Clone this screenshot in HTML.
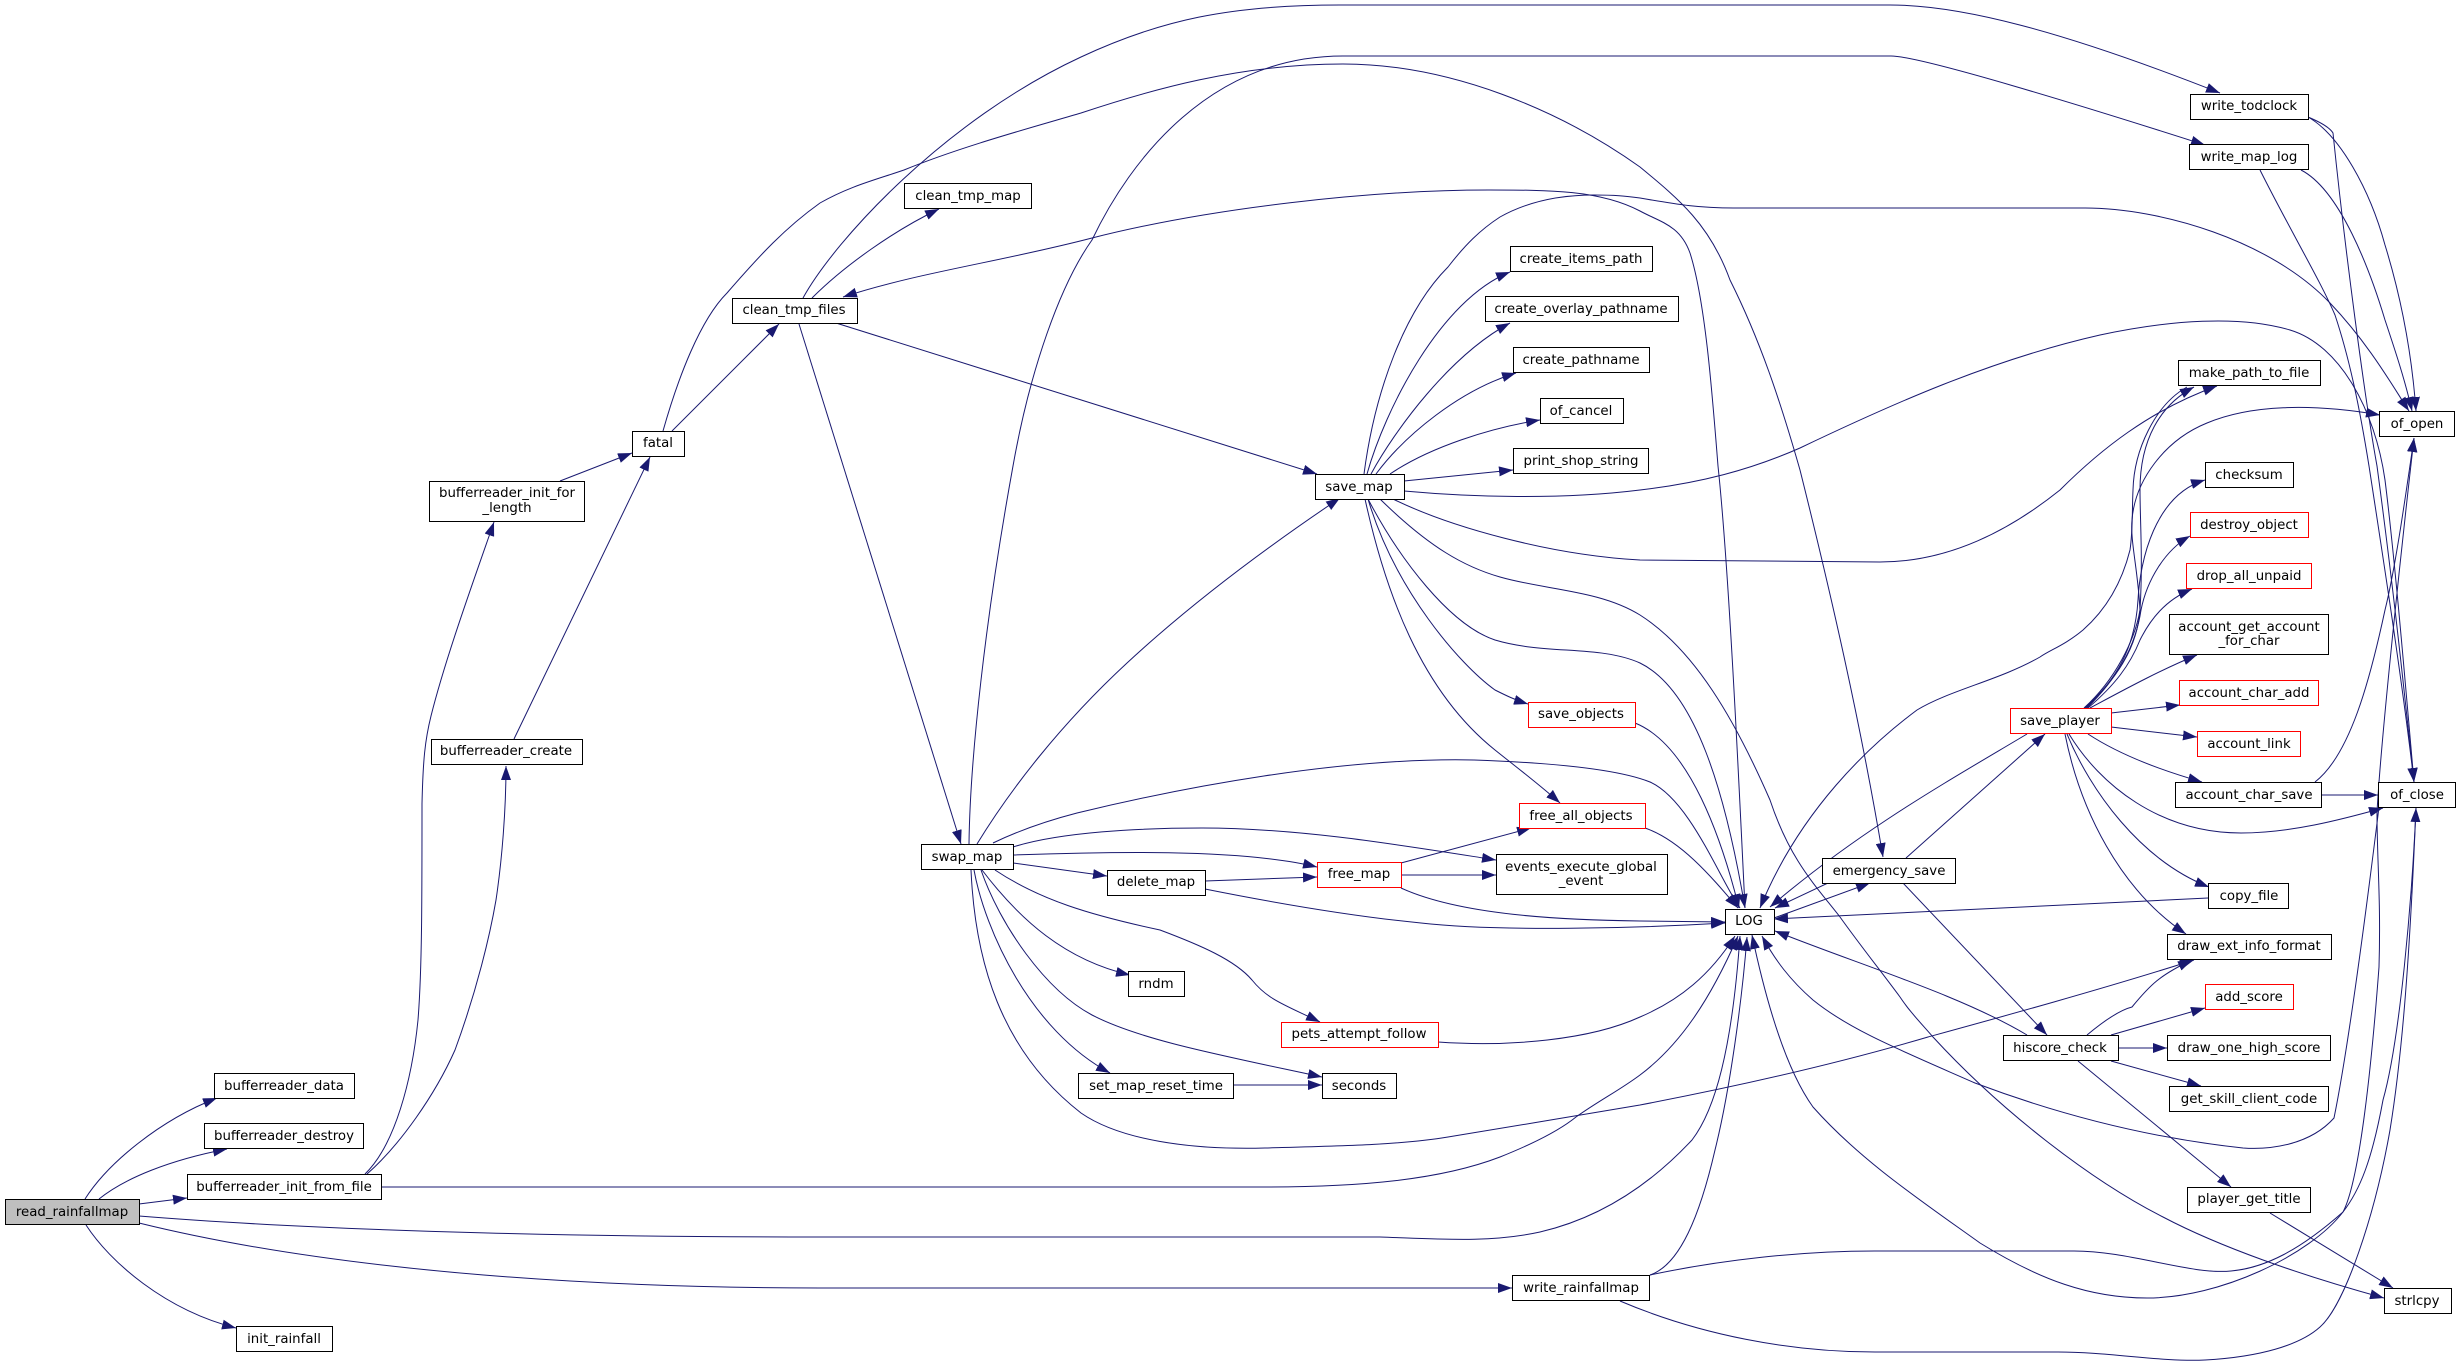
<!DOCTYPE html>
<html><head><meta charset="utf-8"><style>
html,body{margin:0;padding:0;background:#fff}
svg{display:block}
.e path{fill:none;stroke:#191970;stroke-width:1;marker-end:url(#a)}
.n rect{fill:#fff;stroke:#000;stroke-width:1}
.n rect.r{stroke:#ff0000}
.n rect.g{fill:#bfbfbf}
text{font-family:"DejaVu Sans",sans-serif;font-size:13.33px;text-anchor:middle;fill:#000}
</style></head><body>
<svg xmlns="http://www.w3.org/2000/svg" width="2461" height="1366" viewBox="0 0 2461 1366">
<defs><marker id="a" markerUnits="userSpaceOnUse" markerWidth="14" markerHeight="10" refX="14" refY="5" orient="auto"><path d="M0,0L14,5L0,10z" fill="#191970"/></marker></defs>
<rect width="2461" height="1366" fill="#fff"/>
<g class="e">
<path d="M85,1199C108,1163 160,1120 217,1098"/>
<path d="M99,1199C125,1178 170,1160 227,1149"/>
<path d="M139,1204L187,1198"/>
<path d="M139,1216C350,1233 620,1237 820,1237L1380,1237C1440,1239 1490,1243 1540,1232C1600,1218 1650,1185 1692,1140C1715,1110 1732,1050 1740,936"/>
<path d="M139,1223C350,1275 620,1288 820,1288L1512,1288"/>
<path d="M86,1225C110,1262 165,1310 236,1328"/>
<path d="M365,1174C395,1145 412,1080 418,1020C422,970 422,900 422,804C423,760 425,740 431,716C445,660 472,585 494,522"/>
<path d="M367,1174C400,1145 435,1095 455,1050C477,990 490,935 496,900C502,860 506,810 506,766"/>
<path d="M381,1187L1265,1187C1360,1187 1440,1180 1500,1157C1535,1143 1560,1130 1576,1117C1600,1100 1620,1090 1640,1075C1680,1045 1710,1000 1738,936"/>
<path d="M560,481L632,453"/>
<path d="M514,739L650,457"/>
<path d="M672,431L779,324"/>
<path d="M663,431C678,378 700,320 727,293C760,255 785,228 820,203C850,186 875,180 904,170C960,147 1030,128 1081,113C1150,90 1240,64 1343,64C1450,64 1560,110 1640,167C1680,200 1710,225 1730,280C1760,340 1780,400 1800,470C1830,590 1860,720 1883,857"/>
<path d="M803,298C835,240 945,120 1081,57C1160,20 1230,5 1340,5L1890,5C1960,5 2060,30 2220,93"/>
<path d="M812,298C845,265 895,230 939,209"/>
<path d="M836,323L1317,474"/>
<path d="M799,324L961,844"/>
<path d="M1745,908C1737,740 1728,560 1718,466C1712,390 1705,300 1690,253C1680,225 1660,222 1640,211C1600,190 1550,190 1489,190C1370,190 1210,208 1092,238C1000,262 920,272 843,297"/>
<path d="M969,844C970,760 985,620 1013,466C1030,370 1060,285 1092,240C1130,160 1210,56 1343,56L1891,56C1920,56 2080,105 2205,145"/>
<path d="M977,844C1010,790 1060,725 1127,663C1195,600 1270,545 1340,498"/>
<path d="M993,843C1020,830 1050,820 1077,813C1180,788 1340,757 1474,760C1560,763 1620,770 1650,782C1690,800 1720,880 1740,908"/>
<path d="M1013,847C1060,832 1140,828 1202,828C1300,828 1400,845 1496,860"/>
<path d="M1013,855C1100,852 1240,848 1317,867"/>
<path d="M1013,863L1107,876"/>
<path d="M1205,881L1317,877"/>
<path d="M1401,863L1531,828"/>
<path d="M1401,875L1496,875"/>
<path d="M1401,888C1460,915 1560,920 1640,921L1725,922"/>
<path d="M1205,889C1300,908 1370,918 1421,923C1500,932 1640,928 1725,923"/>
<path d="M982,870C1020,920 1065,960 1130,975"/>
<path d="M971,870C975,960 1000,1050 1081,1113C1120,1140 1190,1150 1265,1148C1340,1146 1400,1145 1448,1137C1510,1127 1580,1115 1640,1105C1760,1082 1850,1060 1928,1037C1990,1020 2100,990 2194,960"/>
<path d="M974,870C985,930 1030,1030 1110,1073"/>
<path d="M981,870C1000,925 1045,990 1092,1015C1140,1040 1220,1055 1322,1077"/>
<path d="M995,870C1040,900 1090,915 1160,930C1200,945 1235,960 1252,980C1268,1000 1285,1005 1320,1022"/>
<path d="M1234,1085L1322,1085"/>
<path d="M1438,1042C1510,1047 1590,1040 1640,1017C1680,1000 1710,975 1735,936"/>
<path d="M1650,1275C1680,1265 1700,1215 1715,1150C1730,1090 1742,1000 1747,937"/>
<path d="M1364,474C1375,390 1405,310 1448,267C1465,245 1480,230 1500,217C1525,203 1555,195 1594,195C1615,195 1625,196 1640,198C1680,205 1700,208 1734,208L2085,208C2160,208 2270,240 2330,303C2370,345 2395,390 2409,411"/>
<path d="M1367,474C1385,410 1440,300 1510,272"/>
<path d="M1371,474C1395,430 1450,355 1510,323"/>
<path d="M1376,474C1405,435 1460,390 1516,373"/>
<path d="M1390,474C1430,447 1490,428 1540,420"/>
<path d="M1404,481L1513,470"/>
<path d="M1404,491C1470,497 1560,500 1640,490C1700,483 1750,470 1800,448C1890,405 1990,360 2100,335C2170,320 2240,315 2290,330C2340,345 2375,410 2385,480C2395,560 2405,680 2414,782"/>
<path d="M1393,499C1450,527 1550,555 1640,560L1880,562C1950,562 2010,530 2060,490C2100,450 2150,410 2217,386"/>
<path d="M1380,499C1430,548 1465,567 1500,577C1545,590 1600,590 1640,615C1695,650 1735,720 1770,800C1790,860 1815,885 1840,917C1860,945 1880,970 1900,997C1910,1012 1920,1022 1933,1037C2000,1110 2090,1180 2163,1217C2220,1247 2300,1275 2384,1298"/>
<path d="M1368,499C1400,560 1450,625 1495,640C1545,655 1600,645 1640,663C1695,690 1725,790 1745,908"/>
<path d="M1368,499C1395,590 1460,665 1495,690C1505,695 1515,700 1528,704"/>
<path d="M1365,499C1385,590 1420,690 1495,750C1520,770 1540,785 1560,803"/>
<path d="M1635,723C1690,745 1722,840 1739,908"/>
<path d="M1645,828C1680,840 1710,875 1738,908"/>
<path d="M2187,387C2155,405 2134,450 2133,490C2132,510 2133,530 2130,550C2120,590 2100,615 2083,630C2065,645 2050,650 2040,657C2000,680 1950,690 1917,710C1870,745 1800,810 1760,908"/>
<path d="M2027,734C1950,780 1860,830 1770,907"/>
<path d="M1828,883L1775,908"/>
<path d="M1774,918L1870,883"/>
<path d="M1906,858L2045,734"/>
<path d="M1903,883L2047,1035"/>
<path d="M2084,708C2115,680 2135,640 2140,610C2143,560 2140,520 2140,490C2140,440 2160,405 2194,387"/>
<path d="M2085,708C2115,680 2137,650 2140,610C2138,570 2130,540 2132,520C2135,480 2165,440 2207,423C2250,405 2310,403 2380,415"/>
<path d="M2086,708C2115,680 2135,650 2138,600C2140,560 2155,495 2205,480"/>
<path d="M2087,708C2115,680 2135,650 2141,610C2147,580 2165,550 2190,536"/>
<path d="M2088,708C2115,685 2130,665 2140,640C2150,620 2165,600 2192,589"/>
<path d="M2090,708C2120,692 2160,670 2197,655"/>
<path d="M2111,713L2180,705"/>
<path d="M2111,727L2197,737"/>
<path d="M2088,734C2120,755 2160,770 2202,782"/>
<path d="M2069,734C2100,785 2160,833 2241,833C2290,833 2340,820 2383,808"/>
<path d="M2067,734C2090,790 2140,860 2209,887"/>
<path d="M2065,734C2080,810 2120,890 2186,934"/>
<path d="M2315,782C2350,755 2370,680 2385,610C2395,570 2405,500 2414,438"/>
<path d="M2321,795L2378,795"/>
<path d="M2308,117C2340,135 2370,190 2385,245C2405,310 2413,370 2416,411"/>
<path d="M2308,117C2320,122 2330,128 2333,133C2345,250 2365,400 2377,466C2395,600 2405,700 2414,782"/>
<path d="M2301,170C2340,190 2370,270 2385,320C2395,350 2405,380 2412,411"/>
<path d="M2260,170C2290,230 2320,280 2335,315C2350,360 2360,410 2369,466C2385,570 2402,680 2414,782"/>
<path d="M2379,807C2370,880 2350,1040 2334,1118C2310,1145 2270,1150 2243,1148C2150,1138 2060,1115 1975,1083C1900,1050 1850,1030 1813,1000C1790,980 1775,960 1762,936"/>
<path d="M2416,808C2412,900 2400,1040 2383,1100C2372,1160 2360,1190 2343,1212C2310,1255 2220,1298 2147,1298C2090,1298 2040,1280 1980,1243C1920,1200 1860,1160 1813,1107C1790,1075 1770,1020 1752,935"/>
<path d="M1650,1275C1720,1260 1800,1251 1875,1251L2074,1251C2130,1251 2190,1275 2231,1271C2265,1268 2300,1250 2343,1212C2360,1180 2372,1060 2379,967C2381,900 2377,860 2377,813C2380,750 2400,560 2414,438"/>
<path d="M1620,1301C1700,1335 1790,1352 1875,1352L2058,1352C2110,1352 2160,1362 2205,1360C2260,1357 2300,1345 2320,1327C2345,1305 2375,1215 2390,1130C2403,1050 2410,950 2416,808"/>
<path d="M2208,898L1774,919"/>
<path d="M2027,1035C1960,995 1860,965 1775,931"/>
<path d="M2087,1035C2105,1020 2120,1010 2132,1007C2150,985 2160,975 2192,960"/>
<path d="M2111,1035L2205,1008"/>
<path d="M2118,1048L2167,1048"/>
<path d="M2111,1061L2201,1086"/>
<path d="M2078,1061L2231,1187"/>
<path d="M2270,1213L2393,1288"/>
</g>
<g class="n">
<rect class="g" x="5.5" y="1199.5" width="134" height="25"/><text x="72" y="1216">read_rainfallmap</text>
<rect x="214.5" y="1073.5" width="140" height="25"/><text x="284" y="1090">bufferreader_data</text>
<rect x="204.5" y="1123.5" width="159" height="25"/><text x="284" y="1140">bufferreader_destroy</text>
<rect x="187.5" y="1174.5" width="194" height="25"/><text x="284" y="1191">bufferreader_init_from_file</text>
<rect x="236.5" y="1326.5" width="96" height="25"/><text x="284" y="1343">init_rainfall</text>
<rect x="632.5" y="431.5" width="52" height="25"/><text x="658" y="447">fatal</text>
<rect x="429.5" y="481.5" width="155" height="40"/><text x="507" y="497">bufferreader_init_for</text><text x="507" y="512">_length</text>
<rect x="431.5" y="739.5" width="151" height="25"/><text x="506" y="755">bufferreader_create</text>
<rect x="732.5" y="298.5" width="125" height="25"/><text x="794" y="314">clean_tmp_files</text>
<rect x="904.5" y="183.5" width="127" height="25"/><text x="968" y="200">clean_tmp_map</text>
<rect x="1510.5" y="246.5" width="142" height="25"/><text x="1581" y="263">create_items_path</text>
<rect x="1485.5" y="296.5" width="193" height="25"/><text x="1581" y="313">create_overlay_pathname</text>
<rect x="1513.5" y="347.5" width="136" height="25"/><text x="1581" y="364">create_pathname</text>
<rect x="1540.5" y="398.5" width="83" height="25"/><text x="1581" y="415">of_cancel</text>
<rect x="1513.5" y="448.5" width="135" height="25"/><text x="1581" y="465">print_shop_string</text>
<rect x="1315.5" y="474.5" width="89" height="25"/><text x="1359" y="491">save_map</text>
<rect class="r" x="1528.5" y="702.5" width="107" height="25"/><text x="1581" y="718">save_objects</text>
<rect class="r" x="1519.5" y="803.5" width="126" height="25"/><text x="1581" y="820">free_all_objects</text>
<rect x="921.5" y="844.5" width="92" height="25"/><text x="967" y="861">swap_map</text>
<rect class="r" x="1317.5" y="862.5" width="84" height="25"/><text x="1359" y="878">free_map</text>
<rect x="1107.5" y="870.5" width="98" height="25"/><text x="1156" y="886">delete_map</text>
<rect x="1496.5" y="854.5" width="171" height="40"/><text x="1581" y="871">events_execute_global</text><text x="1581" y="885">_event</text>
<rect x="1128.5" y="971.5" width="56" height="25"/><text x="1156" y="988">rndm</text>
<rect class="r" x="1281.5" y="1022.5" width="157" height="25"/><text x="1359" y="1038">pets_attempt_follow</text>
<rect x="1078.5" y="1073.5" width="155" height="25"/><text x="1156" y="1090">set_map_reset_time</text>
<rect x="1322.5" y="1073.5" width="74" height="25"/><text x="1359" y="1090">seconds</text>
<rect x="1512.5" y="1275.5" width="137" height="25"/><text x="1581" y="1292">write_rainfallmap</text>
<rect x="2190.5" y="94.5" width="118" height="25"/><text x="2249" y="110">write_todclock</text>
<rect x="2189.5" y="144.5" width="119" height="25"/><text x="2249" y="161">write_map_log</text>
<rect x="2178.5" y="360.5" width="142" height="25"/><text x="2249" y="377">make_path_to_file</text>
<rect x="2379.5" y="411.5" width="75" height="25"/><text x="2417" y="428">of_open</text>
<rect x="2205.5" y="462.5" width="88" height="25"/><text x="2249" y="479">checksum</text>
<rect class="r" x="2190.5" y="512.5" width="118" height="25"/><text x="2249" y="529">destroy_object</text>
<rect class="r" x="2186.5" y="563.5" width="125" height="25"/><text x="2249" y="580">drop_all_unpaid</text>
<rect x="2169.5" y="614.5" width="159" height="40"/><text x="2249" y="631">account_get_account</text><text x="2249" y="645">_for_char</text>
<rect class="r" x="2179.5" y="680.5" width="139" height="25"/><text x="2249" y="697">account_char_add</text>
<rect class="r" x="2197.5" y="731.5" width="103" height="25"/><text x="2249" y="748">account_link</text>
<rect class="r" x="2010.5" y="708.5" width="101" height="25"/><text x="2060" y="725">save_player</text>
<rect x="2175.5" y="782.5" width="146" height="25"/><text x="2249" y="799">account_char_save</text>
<rect x="2378.5" y="782.5" width="77" height="25"/><text x="2417" y="799">of_close</text>
<rect x="1822.5" y="858.5" width="133" height="25"/><text x="1889" y="875">emergency_save</text>
<rect x="2208.5" y="883.5" width="80" height="25"/><text x="2249" y="900">copy_file</text>
<rect x="1725.5" y="909.5" width="49" height="25"/><text x="1749" y="925">LOG</text>
<rect x="2167.5" y="934.5" width="164" height="25"/><text x="2249" y="950">draw_ext_info_format</text>
<rect class="r" x="2205.5" y="984.5" width="88" height="25"/><text x="2249" y="1001">add_score</text>
<rect x="2003.5" y="1035.5" width="115" height="25"/><text x="2060" y="1052">hiscore_check</text>
<rect x="2167.5" y="1035.5" width="163" height="25"/><text x="2249" y="1052">draw_one_high_score</text>
<rect x="2169.5" y="1086.5" width="159" height="25"/><text x="2249" y="1103">get_skill_client_code</text>
<rect x="2187.5" y="1187.5" width="123" height="25"/><text x="2249" y="1203">player_get_title</text>
<rect x="2384.5" y="1288.5" width="67" height="25"/><text x="2417" y="1305">strlcpy</text>
</g>
</svg>
</body></html>
